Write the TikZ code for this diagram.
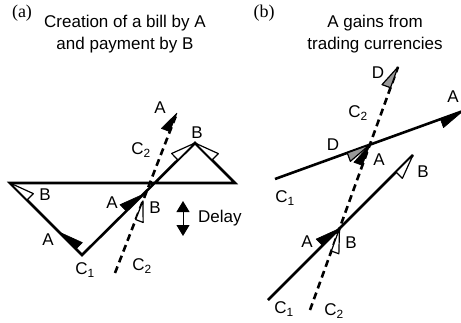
\documentclass[tikz,border=0pt]{standalone}
\usepackage{fontspec}
\setmainfont{Liberation Sans}
\newfontfamily\serfont{Liberation Serif}
\usetikzlibrary{calc,arrows.meta}
% half arrowhead: #1 tip, #2 point back along the line, #3 length, #4 half width, #5 side angle (90 = left of travel, -90 = right), #6 style
\newcommand\hh[6]{\filldraw[#6] (#1) -- ($(#1)!#3!(#2)$) -- ($(#1)!#3!(#2)!#4!#5:(#1)$) -- cycle;}
\begin{document}
\begin{tikzpicture}[x=1pt,y=-1pt,
  font=\fontsize{17}{21}\selectfont,
  chan/.style={line width=2.6pt, line join=miter},
  cdash/.style={line width=2.6pt, dash pattern=on 7pt off 4.5pt},
  blk/.style={fill=black, draw=black, line width=0.6pt, line join=round},
  wht/.style={fill=white, draw=black, line width=1.2pt, line join=round},
  gry/.style={fill=black!40, draw=black, line width=1.2pt, line join=round},
  lbl/.style={inner sep=0pt},
  ttl/.style={inner sep=0pt, align=center, font=\fontsize{17}{22}\selectfont},
  tag/.style={inner sep=0pt, font=\serfont\fontsize{18}{20}\selectfont}]
\useasboundingbox (0,0) rectangle (461,322);
\clip (0,0) rectangle (461,322);

% ---------------- panel (a) ----------------
\node[tag] (pa) at (22,13) {(a)};
\node[ttl] (ta) at (125,34) {Creation of a bill by A\\and payment by B};

\coordinate (L) at (10,183);
\coordinate (R) at (235,183);
\coordinate (P) at (195,143);
\coordinate (V) at (82,255);
\coordinate (D0) at (115,273);
\coordinate (D1) at (177,113);
\coordinate (X) at (intersection of V--P and D0--D1);
\coordinate (M1) at ($(V)!0.32!(L)$);
\coordinate (XA) at ($(X)!5pt!(V)$);
\coordinate (XB) at ($(X)!11pt!(D0)$);

\draw[chan] (V) -- (L) -- (R) -- (P) -- cycle;
\draw[cdash] (D0) -- (D1);

\hh{M1}{V}{24pt}{9pt}{-90}{blk}
\hh{L}{V}{24pt}{9pt}{-90}{wht}
\hh{P}{V}{24pt}{9pt}{90}{wht}
\hh{P}{R}{24pt}{9pt}{-90}{wht}
\hh{XB}{D0}{20pt}{8pt}{-90}{wht}
\hh{XA}{V}{24pt}{9pt}{90}{blk}
\hh{D1}{D0}{20pt}{9pt}{90}{blk}

\coordinate (dl1) at (183,201);
\coordinate (dl2) at (183,236);
\draw[line width=1pt, {Triangle[length=11pt,width=13pt]}-{Triangle[length=11pt,width=13pt]}] (dl1) -- (dl2);
\node[lbl, anchor=west] (delay) at (198,218) {Delay};

\node[lbl] (aA1) at (160,108) {A};
\node[lbl] (aC2a) at (141,150) {C\textsubscript{2}};
\node[lbl] (aB1) at (197,133) {B};
\node[lbl] (aB2) at (45,195) {B};
\node[lbl] (aA2) at (112,203) {A};
\node[lbl] (aB3) at (155,208) {B};
\node[lbl] (aA3) at (48,240) {A};
\node[lbl] (aC1) at (85,270) {C\textsubscript{1}};
\node[lbl] (aC2b) at (142,266) {C\textsubscript{2}};

% ---------------- panel (b) ----------------
\node[tag] (pb) at (264,13) {(b)};
\node[ttl] (tb) at (375,34) {A gains from\\trading currencies};

\coordinate (U0) at (275,179);
\coordinate (U1) at (463,111);
\coordinate (W0) at (268,300);
\coordinate (W1) at (413,155);
\coordinate (E0) at (310,310);
\coordinate (E1) at (398,67);
\coordinate (XU) at (intersection of U0--U1 and E0--E1);
\coordinate (XL) at (intersection of W0--W1 and E0--E1);

\draw[chan] (U0) -- (U1);
\draw[chan] (W0) -- (W1);
\draw[cdash] (E0) -- (E1);

\hh{U1}{U0}{24pt}{9pt}{-90}{blk}
\hh{XU}{U0}{24pt}{9pt}{-90}{gry}
\hh{XU}{E0}{22pt}{9pt}{90}{blk}
\hh{E1}{E0}{22pt}{9pt}{90}{gry}
\hh{W1}{W0}{24pt}{9pt}{-90}{wht}
\hh{XL}{E0}{24pt}{8pt}{-90}{wht}
\hh{XL}{W0}{24pt}{9pt}{90}{blk}

\node[lbl] (bD1) at (378,73) {D};
\node[lbl] (bC2a) at (358,113) {C\textsubscript{2}};
\node[lbl] (bA1) at (453,97) {A};
\node[lbl] (bD2) at (333,145) {D};
\node[lbl] (bA2) at (379,160) {A};
\node[lbl] (bC1a) at (285,198) {C\textsubscript{1}};
\node[lbl] (bB1) at (423,172) {B};
\node[lbl] (bA3) at (307,242) {A};
\node[lbl] (bB2) at (351,243) {B};
\node[lbl] (bC1b) at (284,309) {C\textsubscript{1}};
\node[lbl] (bC2b) at (334,311) {C\textsubscript{2}};
\end{tikzpicture}
\end{document}
